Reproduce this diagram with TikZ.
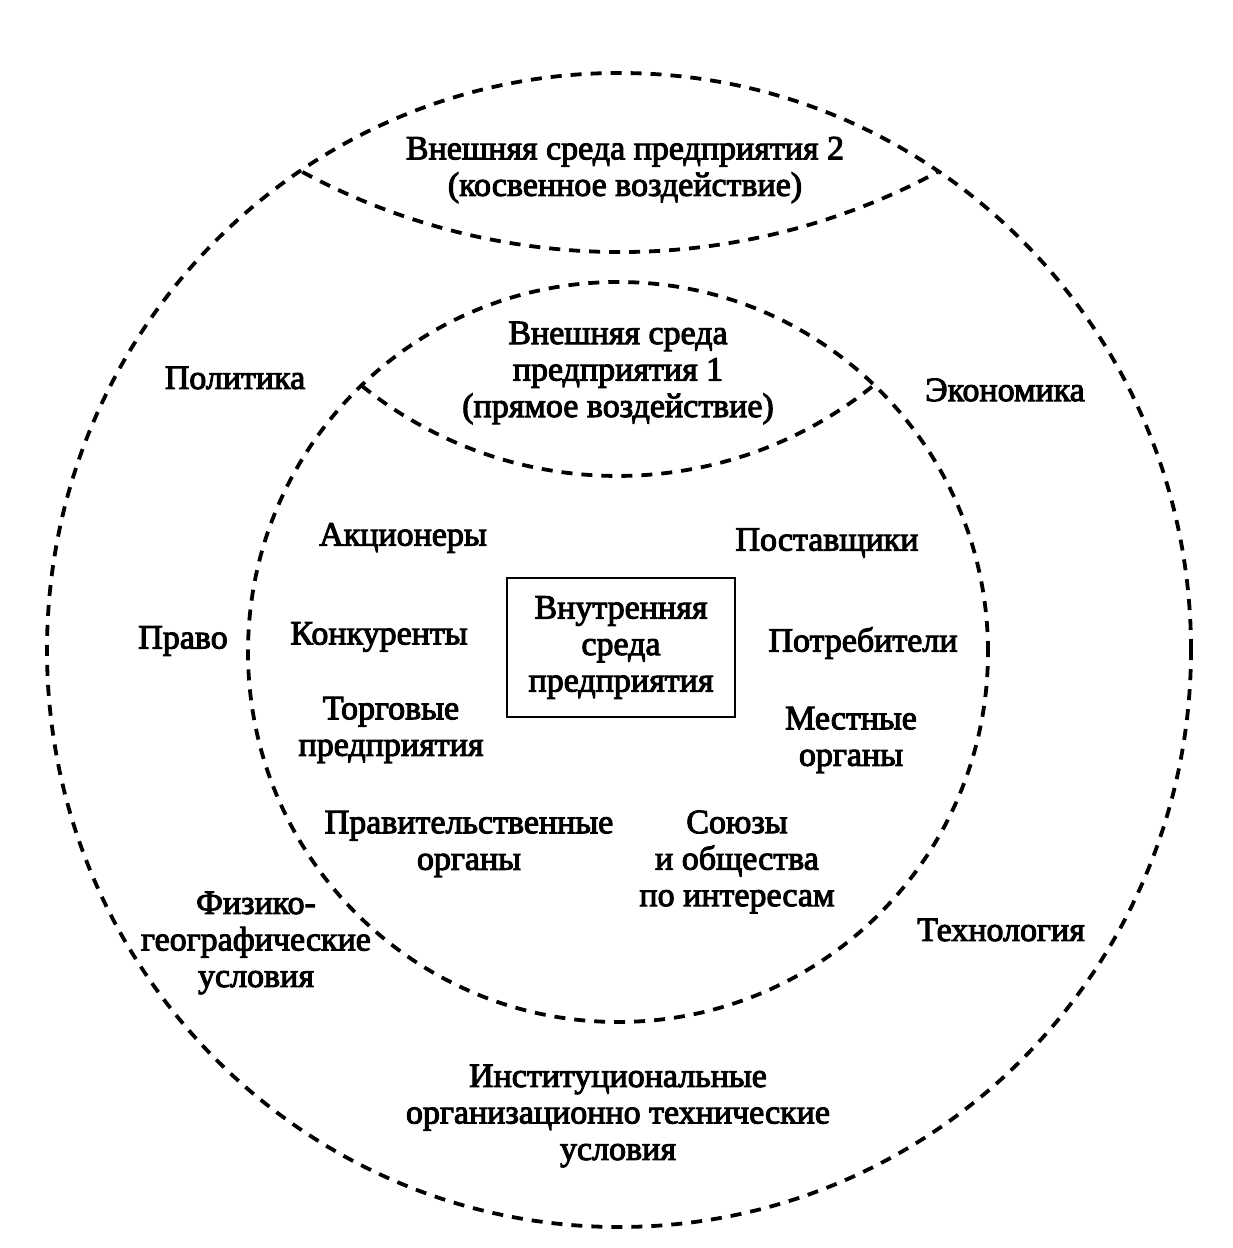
\documentclass[tikz,border=0pt]{standalone}
\usepackage{fontspec}
\setmainfont{Liberation Serif}
\newfontfamily\lbl{Liberation Serif}[FakeBold=3]
\begin{document}
\begin{tikzpicture}[x=1pt,y=1pt,
  lab/.style={font=\lbl\fontsize{34}{36.5}\selectfont, align=center, inner sep=0pt},
  dsh/.style={line width=3.8pt, dash pattern=on 11pt off 9pt},
  inbox/.style={draw, line width=2.8pt, minimum width=228pt, minimum height=139pt}]
\useasboundingbox[fill=white] (0,0) rectangle (1232,1248);
\coordinate (oc) at (619,598);
\coordinate (ic) at (618,596);
\draw[dsh] (oc) ellipse[x radius=572, y radius=577];
\draw[dsh] (ic) circle[radius=370];
\coordinate (ol) at (302.4,1076);
\draw[dsh] (ol) arc[start angle=241.7, end angle=298.3, radius=670];
\coordinate (il) at (362,862);
\draw[dsh] (il) arc[start angle=231.2, end angle=308.8, radius=407.7];

\node[lab] (ext2) at (625,1078) {Внешняя среда предприятия 2\\(косвенное воздействие)};
\node[lab] (ext1) at (618,875) {Внешняя среда\\предприятия 1\\(прямое воздействие)};
\node[lab] (pol) at (235,870) {Политика};
\node[lab] (eco) at (1005,858) {Экономика};
\node[lab] (law) at (183,607) {Право};
\node[lab] (shr) at (403,710) {Акционеры};
\node[lab] (sup) at (827,705) {Поставщики};
\node[lab] (cmp) at (379,611) {Конкуренты};
\node[lab] (cns) at (863,605) {Потребители};
\node[lab, inbox] (box) at (621,600.5) {Внутренняя\\среда\\предприятия};
\node[lab] (trd) at (391,518) {Торговые\\предприятия};
\node[lab] (loc) at (851,508) {Местные\\органы};
\node[lab] (gov) at (469,404) {Правительственные\\органы};
\node[lab] (uni) at (737,386) {Союзы\\и общества\\по интересам};
\node[lab] (phy) at (256,305) {Физико-\\географические\\условия};
\node[lab] (tec) at (1001,318) {Технология};
\node[lab] (ins) at (618,132) {Институциональные\\организационно технические\\условия};
\end{tikzpicture}
\end{document}
